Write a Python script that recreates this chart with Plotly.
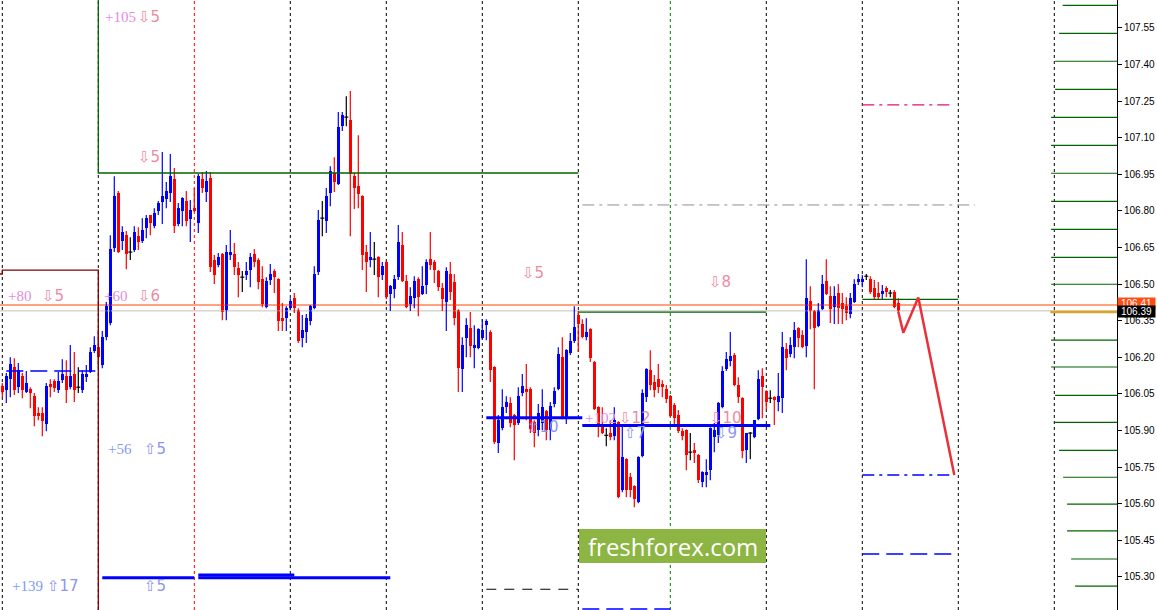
import plotly.graph_objects as go

# ---------------- candle data (H1 bars, index 0..224) ----------------
opens = [106.081,106.065,106.110,106.159,106.077,106.122,106.057,106.069,106.040,105.971,
105.971,105.926,106.090,106.102,106.065,106.106,106.122,106.077,106.131,106.077,
106.065,106.118,106.139,106.225,106.241,106.168,106.282,106.340,106.647,106.873,
106.676,106.700,106.631,106.639,106.696,106.676,106.729,106.783,106.737,106.799,
106.836,106.848,106.873,106.930,106.746,106.799,106.840,106.766,106.811,106.750,
106.930,106.877,106.934,106.598,106.578,106.623,106.393,106.619,106.623,106.565,
106.528,106.537,106.557,106.623,106.598,106.520,106.405,106.516,106.553,106.520,
106.360,106.360,106.401,106.442,106.393,106.278,106.303,106.348,106.401,106.549,
106.770,106.758,106.873,106.955,106.910,107.147,107.184,107.172,106.942,106.901,
106.860,106.631,106.598,106.602,106.610,106.537,106.590,106.459,106.479,106.528,
106.660,106.512,106.418,106.442,106.520,106.459,106.496,106.602,106.590,106.553,
106.483,106.426,106.541,106.508,106.393,106.151,106.278,106.319,106.237,106.237,
106.278,106.331,106.303,106.159,105.848,105.909,105.995,106.012,105.963,105.930,
106.053,106.069,106.069,105.934,105.901,105.930,105.979,105.901,106.008,106.069,
106.200,105.950,106.217,106.266,106.373,106.336,106.282,106.315,106.180,105.995,
105.922,105.880,105.889,105.876,105.934,105.655,105.782,105.708,105.671,105.606,
105.794,106.036,106.147,106.098,106.110,106.090,106.069,106.040,106.004,105.963,
105.897,105.901,105.811,105.819,105.799,105.688,105.717,105.737,105.872,105.880,
105.995,106.151,106.184,106.209,106.086,106.032,105.819,105.889,105.872,105.946,
106.122,106.061,106.032,106.036,106.016,106.032,106.233,106.213,106.241,106.319,
106.291,106.245,106.430,106.389,106.327,106.397,106.512,106.450,106.405,106.463,
106.422,106.409,106.377,106.426,106.508,106.508,106.532,106.520,106.483,106.463,
106.459,106.483,106.463,106.467,106.422]
highs = [106.094,106.135,106.200,106.196,106.176,106.135,106.143,106.077,106.053,105.995,
105.995,106.094,106.110,106.110,106.139,106.192,106.188,106.250,106.221,106.159,
106.147,106.168,106.241,106.286,106.311,106.307,106.426,106.700,106.942,106.881,
106.737,106.717,106.692,106.737,106.733,106.770,106.783,106.783,106.811,106.840,
107.041,106.918,107.033,106.975,106.832,106.856,106.881,106.844,106.893,106.951,
106.959,106.963,106.959,106.619,106.627,106.627,106.660,106.721,106.668,106.590,
106.553,106.590,106.627,106.643,106.606,106.573,106.528,106.582,106.561,106.524,
106.422,106.409,106.442,106.463,106.401,106.373,106.377,106.414,106.573,106.803,
106.840,106.893,106.983,107.020,107.205,107.205,107.270,107.291,106.955,107.110,
106.864,106.660,106.713,106.672,106.614,106.590,106.594,106.496,106.537,106.742,
106.713,106.537,106.487,106.532,106.528,106.573,106.602,106.713,106.598,106.557,
106.504,106.569,106.590,106.541,106.397,106.282,106.360,106.385,106.331,106.319,
106.356,106.356,106.311,106.163,105.963,106.069,106.040,106.036,105.967,106.077,
106.131,106.172,106.077,105.942,106.008,106.069,105.984,106.016,106.077,106.241,
106.282,106.233,106.299,106.409,106.389,106.356,106.360,106.319,106.184,105.999,
105.995,105.909,105.942,105.995,105.938,105.922,105.786,105.725,105.675,105.794,
106.069,106.155,106.229,106.127,106.172,106.106,106.086,106.045,106.012,105.984,
105.909,105.905,105.889,105.848,105.803,105.733,105.782,105.913,105.930,106.016,
106.163,106.221,106.303,106.217,106.118,106.036,105.889,105.893,105.942,106.147,
106.155,106.065,106.065,106.040,106.135,106.303,106.258,106.282,106.344,106.323,
106.311,106.602,106.491,106.393,106.422,106.537,106.602,106.491,106.491,106.500,
106.463,106.446,106.463,106.520,106.541,106.537,106.541,106.532,106.516,106.508,
106.496,106.491,106.475,106.475,106.442]
lows = [106.036,106.012,106.036,106.045,106.053,106.032,106.053,105.991,105.917,105.942,
105.876,105.897,106.036,106.057,106.053,106.094,106.012,106.069,106.016,106.053,
106.053,106.098,106.135,106.217,106.159,106.155,106.270,106.331,106.631,106.627,
106.639,106.561,106.598,106.631,106.639,106.668,106.688,106.700,106.729,106.783,
106.746,106.811,106.836,106.709,106.737,106.737,106.737,106.672,106.795,106.709,
106.873,106.836,106.549,106.500,106.569,106.352,106.352,106.598,106.537,106.446,
106.467,106.516,106.487,106.569,106.479,106.405,106.401,106.496,106.463,106.307,
106.307,106.307,106.393,106.381,106.258,106.241,106.258,106.331,106.397,106.537,
106.696,106.709,106.819,106.877,106.906,107.127,107.147,106.696,106.807,106.811,
106.557,106.467,106.569,106.537,106.446,106.516,106.438,106.389,106.442,106.516,
106.508,106.401,106.389,106.401,106.368,106.455,106.459,106.557,106.504,106.471,
106.389,106.307,106.434,106.331,106.057,106.057,106.200,106.200,106.155,106.233,
106.274,106.270,106.098,105.844,105.807,105.901,105.971,105.913,105.778,105.922,
106.040,105.942,105.889,105.831,105.876,105.901,105.860,105.860,105.995,106.065,
105.946,105.926,106.209,106.258,106.221,106.278,106.270,106.180,105.984,105.872,
105.885,105.835,105.860,105.860,105.622,105.647,105.626,105.626,105.585,105.602,
105.790,106.016,106.065,106.036,106.053,106.036,106.012,105.954,105.917,105.889,
105.860,105.737,105.778,105.766,105.684,105.667,105.667,105.696,105.811,105.848,
105.991,106.143,106.163,106.081,106.012,105.786,105.766,105.782,105.868,105.942,
105.950,105.987,106.012,105.922,105.979,105.971,106.147,106.200,106.196,106.241,
106.237,106.200,106.315,106.069,106.323,106.393,106.455,106.340,106.336,106.336,
106.336,106.352,106.360,106.422,106.496,106.487,106.516,106.459,106.434,106.434,
106.434,106.446,106.446,106.401,106.381]
closes = [106.057,106.122,106.172,106.065,106.147,106.065,106.094,106.053,105.958,105.958,
105.938,106.081,106.077,106.073,106.102,106.131,106.065,106.122,106.065,106.077,
106.131,106.131,106.221,106.250,106.200,106.282,106.409,106.643,106.860,106.631,
106.713,106.623,106.631,106.713,106.672,106.721,106.770,106.750,106.791,106.832,
106.860,106.881,106.942,106.737,106.811,106.852,106.758,106.803,106.799,106.942,
106.893,106.922,106.569,106.537,106.610,106.385,106.631,106.631,106.569,106.537,
106.528,106.553,106.610,106.590,106.508,106.418,106.512,106.541,106.528,106.348,
106.348,106.401,106.430,106.401,106.266,106.311,106.360,106.409,106.541,106.762,
106.770,106.860,106.963,106.918,107.143,107.193,107.184,106.951,106.893,106.869,
106.619,106.590,106.610,106.602,106.528,106.573,106.446,106.491,106.520,106.672,
106.512,106.405,106.450,106.512,106.446,106.491,106.590,106.578,106.557,106.487,
106.438,106.553,106.467,106.360,106.155,106.250,106.331,106.245,106.250,106.315,
106.311,106.348,106.147,105.852,105.942,105.995,106.016,105.930,105.922,106.040,
106.081,106.057,105.905,105.889,105.971,105.995,105.901,105.999,106.061,106.213,
105.950,106.229,106.266,106.323,106.336,106.282,106.303,106.196,105.987,105.922,
105.889,105.880,105.872,105.942,105.626,105.790,105.655,105.655,105.618,105.790,
106.053,106.151,106.086,106.065,106.077,106.077,106.028,105.958,105.950,105.897,
105.876,105.799,105.811,105.807,105.696,105.729,105.729,105.909,105.901,106.012,
106.143,106.192,106.204,106.086,106.036,105.815,105.889,105.889,105.942,106.110,
106.077,106.016,106.032,106.024,106.040,106.241,106.196,106.250,106.311,106.278,
106.241,106.442,106.389,106.319,106.393,106.500,106.459,106.397,106.450,106.401,
106.397,106.381,106.442,106.500,106.520,106.520,106.532,106.467,106.446,106.446,
106.471,106.467,106.463,106.405,106.389]

# ---------------- axis ----------------
tick_values = [107.55, 107.40, 107.25, 107.10, 106.95, 106.80, 106.65, 106.50,
               106.35, 106.20, 106.05, 105.90, 105.75, 105.60, 105.45, 105.30]
tick_labels = ["107.55", "107.40", "107.25", "107.10", "106.95", "106.80", "106.65", "106.50",
               "106.35", "106.20", "106.05", "105.90", "105.75", "105.60", "105.45", "105.30"]
price_range = [105.164, 107.664]
bar_range = [-0.575, 278.675]

# day separators (bar index)
separator_bars = [0, 24, 48, 72, 96, 120, 144, 167, 191, 215, 239, 263]
red_separator_bar = 48
green_separator_bar = 167

# ---------------- objects ----------------
orange_level = 106.414
bid_level = 106.39
ask_label = "106.41"
bid_label = "106.39"

red_box_levels = [106.541, 106.557]
red_box_bar = 24
green_box_level = 106.955
green_box_bars = [24, 144]

green_levels = [106.385, 106.437]
green_from = [144, 215]
green_to = [191, 239]

blue_thick_levels = [105.952, 105.920, 105.296, 105.296, 105.307]
blue_thick_from = [121, 145, 25, 49, 49]
blue_thick_to = [145, 192, 48, 97, 73]

blue_dash_levels = [106.143, 105.168, 105.393]
blue_dash_from = [1, 145, 215]
blue_dash_to = [23.5, 167, 237.5]

black_dash_level = 105.249
black_dash_bars = [121, 144]

blue_dashdot_level = 105.717
magenta_dashdot_level = 107.234
gray_dashdot_level = 106.824
target_bars = [215, 238]
gray_dashdot_bars = [145, 243.2]

forecast_bars = [224, 225.25, 229, 238]
forecast_prices = [106.386, 106.300, 106.445, 105.717]

ladder_levels = [107.642, 107.527, 107.413, 107.298, 107.183, 107.068, 106.954, 106.839,
                 106.724, 106.609, 106.499, 106.270, 106.160, 106.044, 105.933, 105.818,
                 105.708, 105.598, 105.488, 105.373, 105.262]
ladder_start = [265.1, 264.2, 263.2, 263.2, 262.2, 262.2, 262.2, 262.2, 262.2, 262.2,
                262.2, 262.2, 262.2, 263.2, 262.9, 264.2, 265.2, 266.2, 266.2, 267.2, 268.2]
gold_level = 106.385
gold_start = 262.0

# text labels
pink_num_text = ["+105", "+80", "+60", "+102"]
pink_num_bar = [25.2, 0.9, 24.9, 145.2]
pink_num_price = [107.594, 106.450, 106.450, 105.950]
pink_arrow_text = ["⇩5", "⇩5", "⇩5", "⇩6", "⇩5", "⇩8", "⇩12", "⇩10"]
pink_arrow_bar = [33.4, 33.4, 9.4, 33.4, 129.4, 176.2, 153.7, 176.4]
pink_arrow_price = [107.594, 107.020, 106.450, 106.450, 106.545, 106.508, 105.950, 105.950]
blue_num_text = ["+56", "+139"]
blue_num_bar = [25.9, 1.9]
blue_num_price = [105.823, 105.261]
blue_arrow_text = ["⇧5", "⇧17", "⇧5", "⇧7", "⇩9", "⇧10"]
blue_arrow_bar = [34.9, 10.7, 34.9, 154.9, 177.7, 130.7]
blue_arrow_price = [105.823, 105.261, 105.261, 105.889, 105.889, 105.913]

watermark = "freshforex.com"

# ---------------- figure ----------------
fig = go.Figure()
W, H, PLOT_W = 1157, 610, 1117


def seg(xs, ys, color, width=1, dash="solid"):
    fig.add_trace(go.Scatter(x=xs, y=ys, mode="lines", hoverinfo="skip",
                             line=dict(color=color, width=width, dash=dash),
                             showlegend=False))


# day separators (below candles)
for b in separator_bars:
    col = "#000000"
    if b == red_separator_bar:
        col = "#ff0000"
    elif b == green_separator_bar:
        col = "#008000"
    fig.add_shape(type="line", xref="x", yref="paper", x0=b, x1=b, y0=0, y1=1,
                  line=dict(color=col, width=1, dash="3px,3px"), layer="below")

# full-width level lines
seg(bar_range, [bid_level, bid_level], "#c0c0c0", 1)
seg(bar_range, [orange_level, orange_level], "#ff4500", 1)

# candles
groups = {"#0000ff": [], "#ff0000": [], "#000000": []}
for i in range(len(opens)):
    o, c = opens[i], closes[i]
    if c > o:
        groups["#0000ff"].append(i)
    elif c < o:
        groups["#ff0000"].append(i)
    else:
        groups["#000000"].append(i)

for col, ids in groups.items():
    wx, wy = [], []
    for i in ids:
        wx += [i, i, None]
        wy += [lows[i], highs[i], None]
    seg(wx, wy, col, 1.2)
    if col != "#000000":
        fig.add_trace(go.Bar(
            x=ids,
            base=[min(opens[i], closes[i]) for i in ids],
            y=[max(abs(closes[i] - opens[i]), 0.004) for i in ids],
            width=0.8, marker=dict(color=col, line=dict(width=0)),
            hoverinfo="skip", showlegend=False))
    else:
        dx, dy = [], []
        for i in ids:
            dx += [i - 0.5, i + 0.5, None]
            dy += [opens[i], opens[i], None]
        seg(dx, dy, col, 1.2)

# dark red box
seg([bar_range[0], 0, 0, red_box_bar, red_box_bar],
    [red_box_levels[0], red_box_levels[0], red_box_levels[1], red_box_levels[1], price_range[0]],
    "#800000", 1.3)
# green box
seg([green_box_bars[0], green_box_bars[0], green_box_bars[1]],
    [price_range[1], green_box_level, green_box_level], "#006400", 1.3)
for lv, a, b in zip(green_levels, green_from, green_to):
    seg([a, b], [lv, lv], "#006400", 1.3)

for lv, a, b in zip(blue_thick_levels, blue_thick_from, blue_thick_to):
    seg([a, b], [lv, lv], "#0000ff", 3)
for lv, a, b in zip(blue_dash_levels, blue_dash_from, blue_dash_to):
    seg([a, b], [lv, lv], "#0000ff", 1.5, "17px,7px")
seg(black_dash_bars, [black_dash_level] * 2, "#000000", 1, "10px,8px")
seg(target_bars, [blue_dashdot_level] * 2, "#0000ff", 1.5, "12px,5px,3px,5px")
seg(target_bars, [magenta_dashdot_level] * 2, "#e0107a", 1.3, "12px,5px,3px,5px")
seg(gray_dashdot_bars, [gray_dashdot_level] * 2, "#909090", 1, "12px,5px,3px,5px")

# right ladder
for lv, s in zip(ladder_levels, ladder_start):
    seg([s, bar_range[1]], [lv, lv], "#006400", 1.2)
seg([gold_start, bar_range[1]], [gold_level, gold_level], "#daa520", 2.5)

# forecast zigzag
seg(forecast_bars, forecast_prices, "#e8313b", 2.5)

annotations = []
num_font = "Liberation Serif, DejaVu Serif, serif"
arr_font = "DejaVu Sans, Liberation Serif, sans-serif"
for t, b, p in zip(pink_num_text, pink_num_bar, pink_num_price):
    annotations.append(dict(x=b, y=p, text=t, xanchor="left", yanchor="middle", showarrow=False,
                            font=dict(family=num_font, size=15, color="#e28be4")))
for t, b, p in zip(pink_arrow_text, pink_arrow_bar, pink_arrow_price):
    annotations.append(dict(x=b, y=p, text=t, xanchor="left", yanchor="middle", showarrow=False,
                            font=dict(family=arr_font, size=15, color="#f08aa2")))
for t, b, p in zip(blue_num_text, blue_num_bar, blue_num_price):
    annotations.append(dict(x=b, y=p, text=t, xanchor="left", yanchor="middle", showarrow=False,
                            font=dict(family=num_font, size=15, color="#7f9cf2")))
for t, b, p in zip(blue_arrow_text, blue_arrow_bar, blue_arrow_price):
    annotations.append(dict(x=b, y=p, text=t, xanchor="left", yanchor="middle", showarrow=False,
                            font=dict(family=arr_font, size=15, color="#8b95f2")))

# price boxes on the axis
annotations.append(dict(xref="paper", x=1.0, y=orange_level, yshift=2, text=ask_label,
                        xanchor="left", yanchor="middle", showarrow=False, width=37, height=11,
                        bgcolor="#ff4d14", borderpad=0,
                        font=dict(family="Liberation Sans, Arial", size=10, color="#ffffff")))
annotations.append(dict(xref="paper", x=1.0, y=bid_level, yshift=-1, text=bid_label,
                        xanchor="left", yanchor="middle", showarrow=False, width=37, height=11,
                        bgcolor="#000000", borderpad=0,
                        font=dict(family="Liberation Sans, Arial", size=10, color="#ffffff")))

# watermark
fig.add_shape(type="rect", xref="paper", yref="paper",
              x0=579 / PLOT_W, x1=766 / PLOT_W, y0=1 - 563 / H, y1=1 - 529 / H,
              fillcolor="#8db543", line=dict(width=0), layer="above")
annotations.append(dict(xref="paper", yref="paper", x=672.5 / PLOT_W, y=1 - 546 / H,
                        text=watermark, showarrow=False, xanchor="center", yanchor="middle",
                        font=dict(family="Open Sans, Noto Sans, sans-serif", size=24, color="#ffffff")))

fig.update_layout(
    width=W, height=H,
    margin=dict(l=0, r=W - PLOT_W, t=0, b=0, pad=0),
    paper_bgcolor="#ffffff", plot_bgcolor="#ffffff",
    barmode="overlay", bargap=0, showlegend=False,
    annotations=annotations,
    xaxis=dict(range=bar_range, visible=False, fixedrange=True),
    yaxis=dict(range=price_range, side="right", tickmode="array",
               tickvals=tick_values, ticktext=tick_labels,
               ticks="outside", ticklen=4, tickcolor="#000000", tickwidth=1,
               showline=True, linecolor="#000000", linewidth=1,
               showgrid=False, zeroline=False, fixedrange=True,
               tickfont=dict(family="Liberation Sans, Arial", size=10, color="#000000")),
)

fig.write_html("out.html",
               config={"displayModeBar": False},
               post_script="document.body.style.margin='0px';document.body.style.overflow='hidden';")
